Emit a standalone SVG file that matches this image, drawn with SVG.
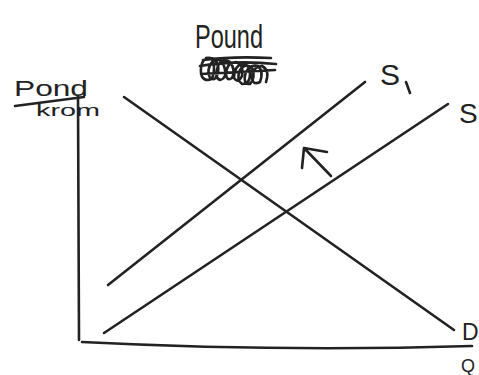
<svg xmlns="http://www.w3.org/2000/svg" width="479" height="375" viewBox="0 0 479 375">
<style>
.ln{fill:none;stroke:#222;stroke-width:2.6;stroke-linecap:round;stroke-linejoin:round}
.t{font-family:"Liberation Sans",sans-serif;fill:#222}
</style>
<rect width="479" height="375" fill="#fff"/>
<g id="title">
<text class="t" x="195" y="48" font-size="34" textLength="68" lengthAdjust="spacingAndGlyphs">Pound</text>
<path class="ln" stroke-width="3.2" d="M206 58 q8 -2 8 10 q0 12 -6 12 q-8 0 -7 -12 q1 -10 9 -10 q10 2 8 14 q-2 10 -8 6 q-4 -8 2 -16 q8 -6 12 4 q4 12 -4 14 q-6 -2 -2 -14 q4 -8 12 -4 q6 8 2 16 q-6 4 -6 -6 q2 -10 10 -10 q8 2 6 14 q-4 8 -8 2 q0 -12 8 -14 q8 0 8 10 q0 10 -8 10 q-6 -4 -2 -14 q6 -8 12 -2 q4 10 -2 16 q-8 0 -4 -12 q4 -8 12 -6 q6 6 2 16 q-8 4 -8 -6 q2 -10 10 -10 q8 4 4 16 M200 66 q36 -6 76 -2 M201 74 q36 -2 74 -4 M203 60 q30 -4 68 -2"/>
</g>
<g id="ylabel">
<text class="t" x="14" y="96" font-size="22" textLength="74" lengthAdjust="spacingAndGlyphs">Pond</text>
<path class="ln" d="M15 106 L84 97"/>
<text class="t" x="36" y="116" font-size="17" textLength="64" lengthAdjust="spacingAndGlyphs">krom</text>
</g>
<g id="connectors">
<path class="ln" d="M78 96 L79 340"/>
<path class="ln" d="M82 342 Q280 352 472 346"/>
<path class="ln" d="M124 97 L454 330"/>
<path class="ln" d="M108 285 L365 82"/>
<path class="ln" d="M104 333 L448 104"/>
<path class="ln" d="M331 176 L304 148 M302 168 L304 148 L327 152"/>
</g>
<g id="S1"><text class="t" x="380" y="85" font-size="30">S</text><path class="ln" d="M406 82 L410 93"/></g>
<g id="S"><text class="t" x="459" y="123" font-size="28">S</text></g>
<g id="D"><text class="t" x="462" y="340" font-size="23">D</text></g>
<g id="Q"><text class="t" x="461" y="372" font-size="18">Q</text></g>
</svg>
